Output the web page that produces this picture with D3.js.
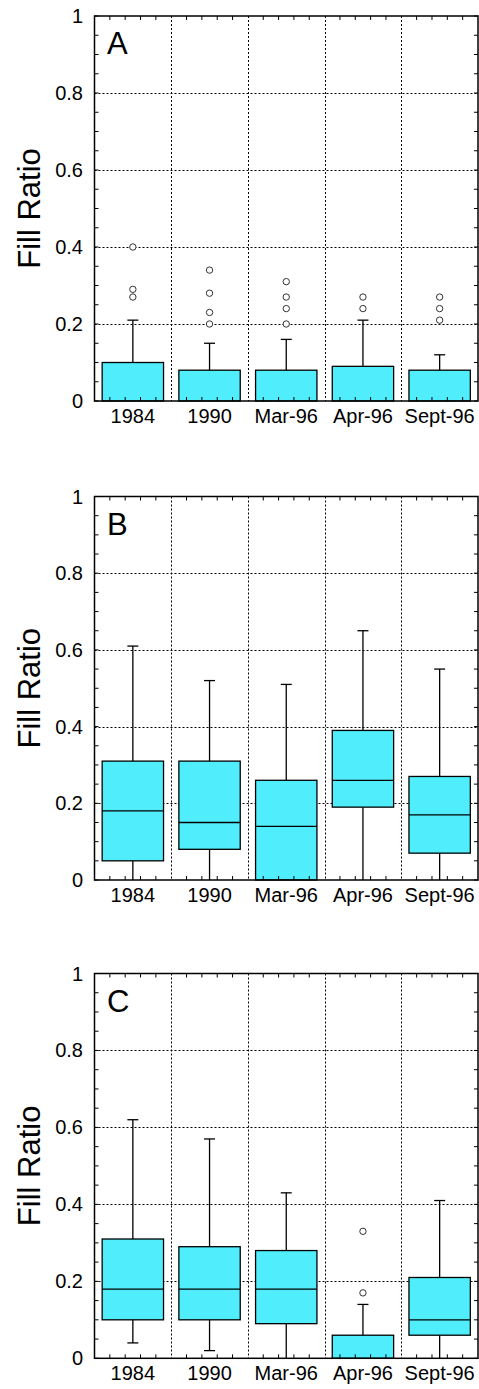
<!DOCTYPE html>
<html><head><meta charset="utf-8">
<script src="https://cdn.jsdelivr.net/npm/d3@7/dist/d3.min.js"></script>
<style>body{margin:0;background:#fff}svg{display:block}text{font-family:"Liberation Sans",Arial,sans-serif;fill:#000}</style>
</head><body><svg id="c" width="479" height="1389"></svg>
<script>
const categories = ["1984","1990","Mar-96","Apr-96","Sept-96"];
const yTicks = [0,0.2,0.4,0.6,0.8,1];
const yTickLabels = ["0","0.2","0.4","0.6","0.8","1"];
const panelLabels = ["A","B","C"];
const yTitle = "Fill Ratio";

// Panel A
const aLow = [0,0,0,0,0];
const aQ1 = [0,0,0,0,0];
const aMed = [0,0,0,0,0];
const aQ3 = [0.10,0.08,0.08,0.09,0.08];
const aHigh = [0.21,0.15,0.16,0.21,0.12];
const aOut = [[0.40,0.29,0.27],[0.34,0.28,0.23,0.20],[0.31,0.27,0.24,0.20],[0.27,0.24],[0.27,0.24,0.21]];
// Panel B
const bLow = [0,0,0,0,0];
const bQ1 = [0.05,0.08,0,0.19,0.07];
const bMed = [0.18,0.15,0.14,0.26,0.17];
const bQ3 = [0.31,0.31,0.26,0.39,0.27];
const bHigh = [0.61,0.52,0.51,0.65,0.55];
const bOut = [[],[],[],[],[]];
// Panel C
const cLow = [0.04,0.02,0,0,0];
const cQ1 = [0.10,0.10,0.09,0,0.06];
const cMed = [0.18,0.18,0.18,0,0.10];
const cQ3 = [0.31,0.29,0.28,0.06,0.21];
const cHigh = [0.62,0.57,0.43,0.14,0.41];
const cOut = [[],[],[],[0.33,0.17],[]];

const panels = [
  {low:aLow,q1:aQ1,med:aMed,q3:aQ3,high:aHigh,out:aOut,top:16,bottom:401},
  {low:bLow,q1:bQ1,med:bMed,q3:bQ3,high:bHigh,out:bOut,top:496.5,bottom:880},
  {low:cLow,q1:cQ1,med:cMed,q3:cQ3,high:cHigh,out:cOut,top:973.5,bottom:1358.3}
];

const svg = d3.select("#c");
const L = 94.5, R = 478;
const fillC = "#50EEFC";

panels.forEach((p,pi)=>{
  const g = svg.append("g");
  const x = d3.scaleBand().domain(categories).range([L,R]).paddingInner(0).paddingOuter(0);
  const y = d3.scaleLinear().domain([0,1]).range([p.bottom,p.top]);
  const bw = x.bandwidth();

  // gridlines
  const grid = g.append("g").attr("stroke","#000").attr("stroke-width",1).attr("stroke-dasharray","2,2");
  yTicks.slice(1,-1).forEach(t=>{
    grid.append("line").attr("x1",L).attr("x2",R).attr("y1",Math.round(y(t))+0.5).attr("y2",Math.round(y(t))+0.5);
  });
  categories.slice(1).forEach(c=>{
    const xx = Math.round(x(c))+0.5;
    grid.append("line").attr("x1",xx).attr("x2",xx).attr("y1",p.top).attr("y2",p.bottom);
  });

  // boxes
  categories.forEach((c,i)=>{
    const cx = x(c)+bw/2;
    const hw = bw*0.4;
    const cap = 5.5;
    const bg = g.append("g").attr("stroke","#000").attr("stroke-width",1.3);
    // upper whisker
    bg.append("line").attr("x1",cx).attr("x2",cx).attr("y1",y(p.q3[i])).attr("y2",y(p.high[i]));
    bg.append("line").attr("x1",cx-cap).attr("x2",cx+cap).attr("y1",y(p.high[i])).attr("y2",y(p.high[i]));
    // lower whisker
    if (p.q1[i] > p.low[i]) {
      bg.append("line").attr("x1",cx).attr("x2",cx).attr("y1",y(p.q1[i])).attr("y2",y(p.low[i]));
      if (p.low[i] > 0) bg.append("line").attr("x1",cx-cap).attr("x2",cx+cap).attr("y1",y(p.low[i])).attr("y2",y(p.low[i]));
    }
    bg.append("rect").attr("x",cx-hw).attr("width",2*hw).attr("y",y(p.q3[i])).attr("height",y(p.q1[i])-y(p.q3[i]))
      .attr("fill",fillC);
    if (p.med[i] > p.q1[i]) bg.append("line").attr("x1",cx-hw).attr("x2",cx+hw).attr("y1",y(p.med[i])).attr("y2",y(p.med[i]));
    p.out[i].forEach(v=>{
      g.append("circle").attr("cx",cx).attr("cy",y(v)).attr("r",3.2).attr("fill","#fff").attr("stroke","#333").attr("stroke-width",1);
    });
  });

  // minor / major ticks
  const tk = g.append("g").attr("stroke","#000").attr("stroke-width",1);
  d3.range(0,1.0001,0.05).forEach(t=>{
    const yy = y(t);
    tk.append("line").attr("x1",L).attr("x2",L+4).attr("y1",yy).attr("y2",yy);
    tk.append("line").attr("x1",R-4).attr("x2",R).attr("y1",yy).attr("y2",yy);
  });
  categories.forEach(c=>{
    for (let k=1;k<5;k++){
      const xx = x(c)+bw*k/5;
      tk.append("line").attr("x1",xx).attr("x2",xx).attr("y1",p.bottom).attr("y2",p.bottom-4);
      tk.append("line").attr("x1",xx).attr("x2",xx).attr("y1",p.top).attr("y2",p.top+4);
    }
  });

  // frame
  g.append("rect").attr("x",L).attr("y",p.top).attr("width",R-L).attr("height",p.bottom-p.top)
    .attr("fill","none").attr("stroke","#000").attr("stroke-width",1.5);

  // y tick labels
  yTicks.forEach((t,k)=>{
    g.append("text").attr("x",83).attr("y",y(t)+7).attr("text-anchor","end").attr("font-size",20).text(yTickLabels[k]);
  });
  // x labels
  categories.forEach(c=>{
    g.append("text").attr("x",x(c)+bw/2).attr("y",p.bottom+22).attr("text-anchor","middle").attr("font-size",20).text(c);
  });
  // y title
  const my = (p.top+p.bottom)/2;
  g.append("text").attr("transform",`translate(39.5,${my}) rotate(-90)`).attr("text-anchor","middle").attr("font-size",31).text(yTitle);
  // panel label
  g.append("text").attr("x",107).attr("y",p.top+38).attr("font-size",31).text(panelLabels[pi]);
});
</script></body></html>
